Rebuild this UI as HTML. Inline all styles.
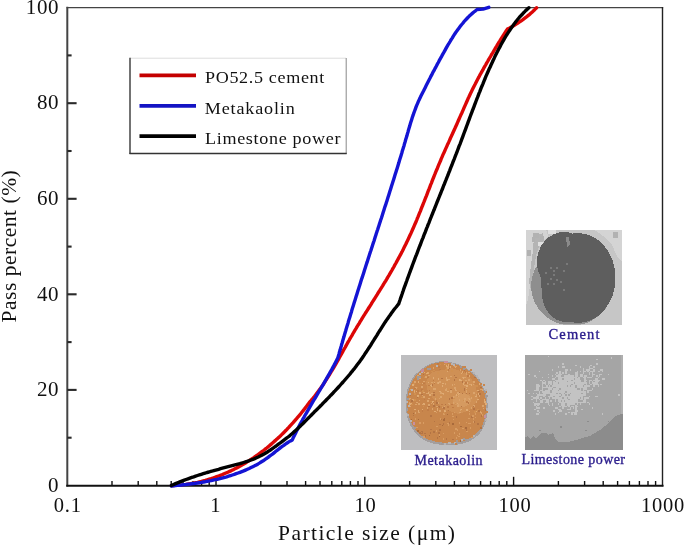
<!DOCTYPE html>
<html><head><meta charset="utf-8">
<style>
html,body{margin:0;padding:0;background:#fff;}
body{width:685px;height:546px;overflow:hidden;position:relative;}
svg{position:absolute;left:0;top:0;filter:blur(0.35px);}
text{font-family:"Liberation Serif",serif;}
</style></head>
<body>
<svg width="685" height="546" viewBox="0 0 685 546">
<!-- frame -->
<g fill="none" stroke-linecap="square">
<line x1="67.3" y1="7.7" x2="662.5" y2="7.7" stroke="#444" stroke-width="1.3"/>
<line x1="662.5" y1="7.7" x2="662.5" y2="485.6" stroke="#222" stroke-width="1.4"/>
<line x1="67.3" y1="7.7" x2="67.3" y2="485.6" stroke="#444" stroke-width="2"/>
<line x1="67.3" y1="485.8" x2="662.5" y2="485.8" stroke="#111" stroke-width="2.1"/>
</g>
<!-- y ticks -->
<g stroke="#2a2a2a" stroke-width="2.1">
<line x1="67.3" y1="437.7" x2="71.6" y2="437.7"/>
<line x1="67.3" y1="389.9" x2="76.6" y2="389.9"/>
<line x1="67.3" y1="342.1" x2="71.6" y2="342.1"/>
<line x1="67.3" y1="294.3" x2="76.6" y2="294.3"/>
<line x1="67.3" y1="246.6" x2="71.6" y2="246.6"/>
<line x1="67.3" y1="198.8" x2="76.6" y2="198.8"/>
<line x1="67.3" y1="151.0" x2="71.6" y2="151.0"/>
<line x1="67.3" y1="103.2" x2="76.6" y2="103.2"/>
<line x1="67.3" y1="55.4" x2="71.6" y2="55.4"/>
</g>
<!-- x ticks -->
<g stroke="#111" stroke-width="1.4">
<line x1="112.0" y1="485" x2="112.0" y2="481"/>
<line x1="138.2" y1="485" x2="138.2" y2="481"/>
<line x1="156.8" y1="485" x2="156.8" y2="481"/>
<line x1="171.2" y1="485" x2="171.2" y2="481"/>
<line x1="183.0" y1="485" x2="183.0" y2="481"/>
<line x1="193.0" y1="485" x2="193.0" y2="481"/>
<line x1="201.6" y1="485" x2="201.6" y2="481"/>
<line x1="209.2" y1="485" x2="209.2" y2="481"/>
<line x1="216.0" y1="485" x2="216.0" y2="476.8"/>
<line x1="260.8" y1="485" x2="260.8" y2="481"/>
<line x1="287.0" y1="485" x2="287.0" y2="481"/>
<line x1="305.6" y1="485" x2="305.6" y2="481"/>
<line x1="320.0" y1="485" x2="320.0" y2="481"/>
<line x1="331.8" y1="485" x2="331.8" y2="481"/>
<line x1="341.8" y1="485" x2="341.8" y2="481"/>
<line x1="350.4" y1="485" x2="350.4" y2="481"/>
<line x1="358.0" y1="485" x2="358.0" y2="481"/>
<line x1="364.8" y1="485" x2="364.8" y2="476.8"/>
<line x1="409.6" y1="485" x2="409.6" y2="481"/>
<line x1="435.8" y1="485" x2="435.8" y2="481"/>
<line x1="454.4" y1="485" x2="454.4" y2="481"/>
<line x1="468.8" y1="485" x2="468.8" y2="481"/>
<line x1="480.6" y1="485" x2="480.6" y2="481"/>
<line x1="490.6" y1="485" x2="490.6" y2="481"/>
<line x1="499.2" y1="485" x2="499.2" y2="481"/>
<line x1="506.8" y1="485" x2="506.8" y2="481"/>
<line x1="513.6" y1="485" x2="513.6" y2="476.8"/>
<line x1="558.4" y1="485" x2="558.4" y2="481"/>
<line x1="584.6" y1="485" x2="584.6" y2="481"/>
<line x1="603.2" y1="485" x2="603.2" y2="481"/>
<line x1="617.6" y1="485" x2="617.6" y2="481"/>
<line x1="629.4" y1="485" x2="629.4" y2="481"/>
<line x1="639.4" y1="485" x2="639.4" y2="481"/>
<line x1="648.0" y1="485" x2="648.0" y2="481"/>
<line x1="655.6" y1="485" x2="655.6" y2="481"/>
</g>

<!-- y labels -->
<g font-size="21" fill="#111" text-anchor="end" letter-spacing="0.6">
<text x="59.1" y="13.9">100</text>
<text x="59.1" y="109.3">80</text>
<text x="59.1" y="204.9">60</text>
<text x="59.1" y="300.5">40</text>
<text x="59.1" y="396.1">20</text>
<text x="59.1" y="491.7">0</text>
</g>
<!-- x labels -->
<g font-size="20.5" fill="#111" text-anchor="middle" letter-spacing="0.8">
<text x="67.8" y="512">0.1</text>
<text x="215.8" y="512">1</text>
<text x="365.5" y="512">10</text>
<text x="515" y="512">100</text>
<text x="663" y="512">1000</text>
</g>
<text x="278" y="540" font-size="21.5" fill="#111" textLength="177" lengthAdjust="spacing">Particle size (μm)</text>
<text transform="translate(16.3,322.5) rotate(-90)" font-size="21.5" fill="#111" textLength="152.3" lengthAdjust="spacing">Pass percent (%)</text>

<!-- legend -->
<g>
<rect x="130" y="58.2" width="216" height="95.3" fill="#fff" stroke="none"/>
<line x1="130" y1="58.2" x2="346" y2="58.2" stroke="#ddd" stroke-width="1"/>
<line x1="130" y1="57.7" x2="130" y2="154" stroke="#444" stroke-width="1.5"/>
<line x1="346.2" y1="58" x2="346.2" y2="154" stroke="#888" stroke-width="1"/>
<line x1="129.5" y1="153.5" x2="346.7" y2="153.5" stroke="#333" stroke-width="1.5"/>
<line x1="139.5" y1="75.3" x2="196" y2="75.3" stroke="#c40000" stroke-width="3.8"/>
<line x1="139.5" y1="105.8" x2="196" y2="105.8" stroke="#1414c4" stroke-width="3.8"/>
<line x1="139.5" y1="136.2" x2="196" y2="136.2" stroke="#000" stroke-width="3.8"/>
<g font-size="16.6" fill="#111">
<text transform="translate(205,83) scale(1.09,1)" textLength="109.5" lengthAdjust="spacing">PO52.5 cement</text>
<text transform="translate(204.8,113.5) scale(1.09,1)" textLength="82.5" lengthAdjust="spacing">Metakaolin</text>
<text transform="translate(205,144) scale(1.09,1)" textLength="124.3" lengthAdjust="spacing">Limestone power</text>
</g>
</g>

<!-- insets -->
<!--INS-S-->
<g id="insets" shape-rendering="crispEdges">
<rect x="526" y="229.5" width="96" height="95" fill="#c6c6c6"/>
<path d="M526,229.5 H546 L548,236 L543,241 L538,248 L534,258 L531,270 L530,285 L528,300 L526,305 Z" fill="#d4d4d4"/>
<path d="M534,236 L543,233 L544,240 L540,245 L537,252 L535,262 L533,275 L531,290 L529,282 L531,265 L533,250 Z" fill="#b4b4b4"/>
<path d="M594,229.5 H622 V262 L617,256 L612,245 L603,236 Z" fill="#d4d4d4"/>
<path d="M533,233 h6 v5 h-4 v4 h-3 z M540,236 h4 v4 h-4z M527,250 h4 v6 h-4z M613,232 h5 v6 h-5z" fill="#b2b2b2"/>
<path d="M548,230 h8 v4 h-8z M538,242 h5 v4 h-5z" fill="#e0e0e0"/>
<clipPath id="cc"><rect x="526" y="229.5" width="96" height="95"/></clipPath>
<g clip-path="url(#cc)"><ellipse cx="572" cy="286" rx="41" ry="39.5" fill="#8e8e8e"/>
<ellipse cx="578" cy="278" rx="37.5" ry="45" fill="#5e5e5e"/><ellipse cx="564" cy="262" rx="27" ry="30" fill="#5e5e5e"/><ellipse cx="566" cy="293" rx="24" ry="29" fill="#5e5e5e"/></g>
<rect x="550" y="267" width="2" height="2" fill="#7a7a7a"/>
<rect x="553" y="270" width="2" height="2" fill="#7a7a7a"/>
<rect x="556" y="267" width="2" height="2" fill="#7a7a7a"/>
<rect x="553" y="274" width="2" height="2" fill="#7a7a7a"/>
<rect x="550" y="278" width="2" height="2" fill="#7a7a7a"/>
<rect x="556" y="279" width="2" height="2" fill="#7a7a7a"/>
<rect x="560" y="281" width="2" height="2" fill="#7a7a7a"/>
<rect x="547" y="283" width="2" height="2" fill="#7a7a7a"/>
<rect x="553" y="283" width="2" height="2" fill="#7a7a7a"/>
<rect x="563" y="270" width="2" height="2" fill="#7a7a7a"/>
<rect x="566" y="263" width="2" height="2" fill="#7a7a7a"/>
<rect x="563" y="289" width="2" height="2" fill="#7a7a7a"/>
<rect x="545" y="272" width="2" height="2" fill="#7a7a7a"/>
<path d="M566,237 l3,0 l1,8 l-3,2 z" fill="#8a8a8a"/>
<rect x="401" y="355.3" width="95.5" height="95" fill="#bebec0"/>
<path d="M444.9,361.4 C448.8,361.7 453.9,362.5 458.4,364.3 C462.9,366.0 468.1,368.7 472.0,371.9 C475.8,375.1 479.0,378.9 481.5,383.4 C484.1,387.9 486.3,393.7 487.2,398.8 C488.2,403.9 487.9,409.4 487.2,414.2 C486.6,419.0 485.3,423.9 483.4,427.7 C481.5,431.6 479.2,434.6 475.7,437.3 C472.2,440.0 467.7,442.7 462.3,443.9 C456.8,445.2 449.1,445.5 443.0,445.0 C437.0,444.5 430.6,443.4 425.8,441.1 C421.0,438.9 417.3,435.3 414.2,431.5 C411.2,427.6 408.9,422.8 407.5,418.0 C406.0,413.2 405.6,407.5 405.6,402.7 C405.6,397.9 406.0,393.7 407.5,389.2 C408.9,384.8 411.2,379.6 414.2,375.7 C417.3,371.9 422.3,368.4 425.8,366.2 C429.3,363.9 432.2,363.1 435.4,362.3 C438.5,361.5 441.1,361.0 444.9,361.4 Z" fill="#a39e9e"/>
<path d="M445.0,362.2 C448.7,362.5 453.7,363.3 458.0,365.0 C462.3,366.7 467.3,369.2 471.0,372.3 C474.7,375.4 477.8,379.1 480.2,383.4 C482.6,387.7 484.8,393.3 485.7,398.2 C486.6,403.1 486.3,408.4 485.7,413.0 C485.1,417.6 483.9,422.3 482.0,426.0 C480.1,429.7 478.0,432.6 474.6,435.2 C471.2,437.8 466.9,440.4 461.7,441.6 C456.5,442.8 449.0,443.1 443.2,442.6 C437.4,442.2 431.2,441.1 426.6,438.9 C422.0,436.7 418.4,433.3 415.5,429.6 C412.6,425.9 410.4,421.3 409.0,416.7 C407.6,412.1 407.2,406.5 407.2,401.9 C407.2,397.3 407.6,393.3 409.0,389.0 C410.4,384.7 412.6,379.7 415.5,376.0 C418.4,372.3 423.2,368.9 426.6,366.8 C430.0,364.7 432.7,363.9 435.8,363.1 C438.9,362.3 441.3,361.9 445.0,362.2 Z" fill="#c8864c"/>
<path d="M432,372 L452,368 L468,374 L476,386 L478,400 L470,410 L458,414 L446,410 L436,402 L428,392 L426,382 Z" fill="#cf9156" opacity="0.9"/>
<ellipse cx="462" cy="400" rx="9" ry="7" fill="#d59a60"/>
<rect x="457" y="435" width="1" height="1" fill="#d89c62"/>
<rect x="431" y="384" width="2" height="1" fill="#dba46c"/>
<rect x="447" y="406" width="2" height="2" fill="#c07c46"/>
<rect x="423" y="374" width="1" height="1" fill="#b47444"/>
<rect x="409" y="403" width="2" height="2" fill="#e0ac74"/>
<rect x="457" y="403" width="1" height="1" fill="#e0ac74"/>
<rect x="462" y="377" width="1" height="1" fill="#dba46c"/>
<rect x="475" y="413" width="1" height="2" fill="#d89c62"/>
<rect x="454" y="366" width="2" height="1" fill="#dba46c"/>
<rect x="485" y="409" width="1" height="2" fill="#b47444"/>
<rect x="461" y="373" width="1" height="1" fill="#e0ac74"/>
<rect x="439" y="369" width="2" height="1" fill="#c07c46"/>
<rect x="460" y="386" width="1" height="2" fill="#d09050"/>
<rect x="417" y="430" width="2" height="2" fill="#a86a3c"/>
<rect x="418" y="377" width="1" height="2" fill="#c07c46"/>
<rect x="421" y="433" width="1" height="1" fill="#b47444"/>
<rect x="439" y="381" width="2" height="2" fill="#dba46c"/>
<rect x="444" y="406" width="1" height="2" fill="#dba46c"/>
<rect x="448" y="424" width="1" height="2" fill="#d89c62"/>
<rect x="465" y="380" width="2" height="1" fill="#dba46c"/>
<rect x="421" y="389" width="2" height="2" fill="#c07c46"/>
<rect x="434" y="383" width="1" height="1" fill="#c07c46"/>
<rect x="485" y="403" width="2" height="2" fill="#e0ac74"/>
<rect x="466" y="409" width="2" height="2" fill="#e0ac74"/>
<rect x="441" y="404" width="2" height="1" fill="#c07c46"/>
<rect x="471" y="416" width="2" height="2" fill="#b47444"/>
<rect x="433" y="394" width="1" height="1" fill="#dba46c"/>
<rect x="423" y="436" width="2" height="2" fill="#d89c62"/>
<rect x="445" y="410" width="1" height="1" fill="#b47444"/>
<rect x="484" y="399" width="1" height="2" fill="#b47444"/>
<rect x="439" y="424" width="2" height="1" fill="#b47444"/>
<rect x="480" y="427" width="2" height="2" fill="#b47444"/>
<rect x="426" y="376" width="1" height="1" fill="#e0ac74"/>
<rect x="454" y="375" width="1" height="1" fill="#b47444"/>
<rect x="472" y="415" width="2" height="2" fill="#d89c62"/>
<rect x="410" y="389" width="1" height="1" fill="#dba46c"/>
<rect x="452" y="413" width="1" height="2" fill="#d89c62"/>
<rect x="457" y="429" width="1" height="2" fill="#d89c62"/>
<rect x="459" y="379" width="2" height="2" fill="#e0ac74"/>
<rect x="437" y="382" width="2" height="2" fill="#e0ac74"/>
<rect x="414" y="392" width="1" height="2" fill="#dba46c"/>
<rect x="473" y="392" width="2" height="2" fill="#dba46c"/>
<rect x="423" y="381" width="2" height="1" fill="#dba46c"/>
<rect x="413" y="423" width="1" height="1" fill="#d89c62"/>
<rect x="468" y="372" width="2" height="1" fill="#dba46c"/>
<rect x="428" y="386" width="1" height="2" fill="#d09050"/>
<rect x="421" y="397" width="2" height="1" fill="#d09050"/>
<rect x="464" y="369" width="1" height="2" fill="#b47444"/>
<rect x="411" y="404" width="2" height="1" fill="#d09050"/>
<rect x="428" y="405" width="2" height="2" fill="#b47444"/>
<rect x="416" y="376" width="1" height="2" fill="#d09050"/>
<rect x="469" y="393" width="1" height="1" fill="#b47444"/>
<rect x="468" y="423" width="1" height="1" fill="#d89c62"/>
<rect x="440" y="364" width="1" height="2" fill="#d09050"/>
<rect x="437" y="406" width="2" height="1" fill="#b47444"/>
<rect x="437" y="372" width="2" height="2" fill="#d09050"/>
<rect x="418" y="419" width="1" height="1" fill="#a86a3c"/>
<rect x="453" y="398" width="2" height="1" fill="#d09050"/>
<rect x="444" y="364" width="1" height="1" fill="#dba46c"/>
<rect x="464" y="398" width="2" height="2" fill="#dba46c"/>
<rect x="426" y="393" width="2" height="1" fill="#dba46c"/>
<rect x="409" y="402" width="1" height="1" fill="#dba46c"/>
<rect x="476" y="401" width="1" height="2" fill="#dba46c"/>
<rect x="428" y="404" width="2" height="2" fill="#dba46c"/>
<rect x="457" y="405" width="2" height="2" fill="#dba46c"/>
<rect x="423" y="403" width="2" height="2" fill="#e0ac74"/>
<rect x="455" y="366" width="2" height="1" fill="#dba46c"/>
<rect x="477" y="423" width="2" height="2" fill="#b47444"/>
<rect x="475" y="417" width="1" height="1" fill="#d89c62"/>
<rect x="467" y="375" width="2" height="2" fill="#c07c46"/>
<rect x="448" y="369" width="1" height="2" fill="#c07c46"/>
<rect x="471" y="384" width="1" height="2" fill="#d09050"/>
<rect x="440" y="418" width="1" height="2" fill="#d89c62"/>
<rect x="423" y="406" width="1" height="1" fill="#d09050"/>
<rect x="484" y="399" width="1" height="2" fill="#e0ac74"/>
<rect x="452" y="407" width="2" height="1" fill="#c07c46"/>
<rect x="443" y="413" width="2" height="2" fill="#d89c62"/>
<rect x="424" y="377" width="2" height="1" fill="#d09050"/>
<rect x="443" y="423" width="1" height="2" fill="#b47444"/>
<rect x="444" y="412" width="1" height="2" fill="#d09050"/>
<rect x="458" y="394" width="1" height="1" fill="#e0ac74"/>
<rect x="466" y="392" width="1" height="2" fill="#e0ac74"/>
<rect x="447" y="389" width="2" height="1" fill="#d09050"/>
<rect x="438" y="432" width="2" height="2" fill="#b47444"/>
<rect x="461" y="409" width="1" height="1" fill="#e0ac74"/>
<rect x="430" y="385" width="2" height="2" fill="#e0ac74"/>
<rect x="435" y="398" width="1" height="2" fill="#dba46c"/>
<rect x="437" y="383" width="1" height="1" fill="#d09050"/>
<rect x="462" y="367" width="1" height="1" fill="#d09050"/>
<rect x="446" y="377" width="1" height="2" fill="#e0ac74"/>
<rect x="473" y="400" width="2" height="1" fill="#d09050"/>
<rect x="436" y="406" width="2" height="1" fill="#dba46c"/>
<rect x="458" y="392" width="2" height="1" fill="#b47444"/>
<rect x="445" y="404" width="1" height="1" fill="#b47444"/>
<rect x="431" y="382" width="2" height="1" fill="#dba46c"/>
<rect x="417" y="387" width="1" height="1" fill="#d09050"/>
<rect x="481" y="415" width="1" height="2" fill="#b47444"/>
<rect x="434" y="382" width="1" height="1" fill="#e0ac74"/>
<rect x="417" y="397" width="1" height="1" fill="#b47444"/>
<rect x="417" y="375" width="2" height="2" fill="#dba46c"/>
<rect x="419" y="400" width="1" height="1" fill="#dba46c"/>
<rect x="419" y="383" width="2" height="1" fill="#d09050"/>
<rect x="456" y="394" width="1" height="2" fill="#e0ac74"/>
<rect x="460" y="410" width="2" height="1" fill="#d09050"/>
<rect x="415" y="387" width="2" height="2" fill="#dba46c"/>
<rect x="456" y="416" width="1" height="2" fill="#b47444"/>
<rect x="455" y="389" width="1" height="1" fill="#e0ac74"/>
<rect x="421" y="386" width="2" height="2" fill="#e0ac74"/>
<rect x="429" y="435" width="1" height="1" fill="#a86a3c"/>
<rect x="426" y="373" width="1" height="2" fill="#d09050"/>
<rect x="423" y="383" width="2" height="1" fill="#c07c46"/>
<rect x="463" y="372" width="2" height="1" fill="#d09050"/>
<rect x="448" y="364" width="1" height="2" fill="#e0ac74"/>
<rect x="413" y="383" width="2" height="2" fill="#d09050"/>
<rect x="476" y="385" width="2" height="2" fill="#d09050"/>
<rect x="466" y="392" width="1" height="2" fill="#b47444"/>
<rect x="437" y="363" width="2" height="2" fill="#c07c46"/>
<rect x="429" y="386" width="2" height="1" fill="#dba46c"/>
<rect x="428" y="375" width="2" height="1" fill="#dba46c"/>
<rect x="423" y="422" width="1" height="2" fill="#d89c62"/>
<rect x="447" y="367" width="2" height="2" fill="#dba46c"/>
<rect x="454" y="432" width="1" height="2" fill="#d89c62"/>
<rect x="409" y="393" width="1" height="1" fill="#dba46c"/>
<rect x="452" y="439" width="2" height="1" fill="#b47444"/>
<rect x="452" y="423" width="2" height="2" fill="#a86a3c"/>
<rect x="422" y="409" width="1" height="1" fill="#e0ac74"/>
<rect x="428" y="392" width="1" height="2" fill="#e0ac74"/>
<rect x="451" y="370" width="2" height="2" fill="#d09050"/>
<rect x="414" y="381" width="2" height="2" fill="#dba46c"/>
<rect x="433" y="377" width="1" height="2" fill="#e0ac74"/>
<rect x="445" y="404" width="1" height="1" fill="#b47444"/>
<rect x="417" y="390" width="2" height="2" fill="#c07c46"/>
<rect x="424" y="372" width="1" height="1" fill="#e0ac74"/>
<rect x="454" y="384" width="1" height="1" fill="#dba46c"/>
<rect x="467" y="382" width="1" height="2" fill="#e0ac74"/>
<rect x="439" y="434" width="1" height="2" fill="#d89c62"/>
<rect x="427" y="372" width="1" height="2" fill="#e0ac74"/>
<rect x="464" y="400" width="1" height="2" fill="#dba46c"/>
<rect x="462" y="372" width="2" height="1" fill="#c07c46"/>
<rect x="414" y="388" width="2" height="1" fill="#c07c46"/>
<rect x="480" y="411" width="1" height="2" fill="#dba46c"/>
<rect x="443" y="407" width="2" height="2" fill="#b47444"/>
<rect x="472" y="395" width="2" height="2" fill="#d09050"/>
<rect x="443" y="438" width="1" height="2" fill="#d89c62"/>
<rect x="439" y="392" width="1" height="1" fill="#d09050"/>
<rect x="442" y="393" width="2" height="1" fill="#e0ac74"/>
<rect x="452" y="416" width="2" height="1" fill="#d89c62"/>
<rect x="429" y="386" width="2" height="1" fill="#d09050"/>
<rect x="415" y="418" width="1" height="2" fill="#d89c62"/>
<rect x="409" y="394" width="2" height="1" fill="#e0ac74"/>
<rect x="434" y="411" width="2" height="1" fill="#e0ac74"/>
<rect x="427" y="377" width="2" height="1" fill="#c07c46"/>
<rect x="448" y="410" width="1" height="1" fill="#b47444"/>
<rect x="409" y="406" width="2" height="1" fill="#dba46c"/>
<rect x="433" y="367" width="1" height="2" fill="#dba46c"/>
<rect x="441" y="378" width="2" height="1" fill="#b47444"/>
<rect x="433" y="388" width="2" height="2" fill="#dba46c"/>
<rect x="461" y="406" width="1" height="1" fill="#b47444"/>
<rect x="427" y="409" width="2" height="2" fill="#c07c46"/>
<rect x="458" y="404" width="1" height="2" fill="#dba46c"/>
<rect x="462" y="428" width="2" height="1" fill="#d89c62"/>
<rect x="476" y="394" width="1" height="2" fill="#dba46c"/>
<rect x="432" y="384" width="1" height="2" fill="#c07c46"/>
<rect x="410" y="403" width="2" height="1" fill="#e0ac74"/>
<rect x="439" y="429" width="2" height="2" fill="#b47444"/>
<rect x="463" y="377" width="1" height="2" fill="#e0ac74"/>
<rect x="450" y="366" width="1" height="2" fill="#e0ac74"/>
<rect x="437" y="402" width="2" height="2" fill="#dba46c"/>
<rect x="484" y="401" width="2" height="2" fill="#e0ac74"/>
<rect x="464" y="388" width="1" height="2" fill="#b47444"/>
<rect x="450" y="392" width="2" height="1" fill="#dba46c"/>
<rect x="460" y="440" width="2" height="2" fill="#a86a3c"/>
<rect x="422" y="432" width="1" height="2" fill="#b47444"/>
<rect x="422" y="404" width="2" height="1" fill="#dba46c"/>
<rect x="416" y="427" width="2" height="1" fill="#d89c62"/>
<rect x="427" y="372" width="2" height="2" fill="#dba46c"/>
<rect x="440" y="396" width="2" height="2" fill="#dba46c"/>
<rect x="429" y="394" width="2" height="2" fill="#e0ac74"/>
<rect x="478" y="393" width="1" height="2" fill="#e0ac74"/>
<rect x="460" y="369" width="1" height="2" fill="#dba46c"/>
<rect x="419" y="378" width="2" height="1" fill="#dba46c"/>
<rect x="454" y="387" width="2" height="2" fill="#dba46c"/>
<rect x="471" y="407" width="1" height="2" fill="#dba46c"/>
<rect x="457" y="396" width="1" height="1" fill="#d09050"/>
<rect x="447" y="370" width="1" height="2" fill="#e0ac74"/>
<rect x="465" y="382" width="2" height="2" fill="#c07c46"/>
<rect x="440" y="395" width="2" height="1" fill="#d09050"/>
<rect x="477" y="399" width="2" height="1" fill="#e0ac74"/>
<rect x="480" y="387" width="2" height="1" fill="#b47444"/>
<rect x="455" y="367" width="1" height="1" fill="#e0ac74"/>
<rect x="450" y="376" width="2" height="1" fill="#dba46c"/>
<rect x="455" y="428" width="2" height="2" fill="#d89c62"/>
<rect x="469" y="385" width="2" height="1" fill="#d09050"/>
<rect x="418" y="403" width="2" height="2" fill="#dba46c"/>
<rect x="477" y="409" width="2" height="2" fill="#d09050"/>
<rect x="464" y="377" width="2" height="1" fill="#dba46c"/>
<rect x="454" y="412" width="1" height="1" fill="#d89c62"/>
<rect x="447" y="423" width="2" height="1" fill="#d89c62"/>
<rect x="443" y="433" width="1" height="1" fill="#d89c62"/>
<rect x="437" y="409" width="1" height="2" fill="#e0ac74"/>
<rect x="433" y="394" width="2" height="2" fill="#b47444"/>
<rect x="463" y="400" width="1" height="1" fill="#d09050"/>
<rect x="475" y="411" width="2" height="1" fill="#e0ac74"/>
<rect x="431" y="371" width="2" height="1" fill="#d09050"/>
<rect x="416" y="402" width="2" height="1" fill="#dba46c"/>
<rect x="458" y="436" width="2" height="1" fill="#d89c62"/>
<rect x="427" y="407" width="1" height="2" fill="#dba46c"/>
<rect x="411" y="419" width="1" height="2" fill="#a86a3c"/>
<rect x="451" y="404" width="2" height="1" fill="#c07c46"/>
<rect x="435" y="388" width="1" height="2" fill="#dba46c"/>
<rect x="478" y="410" width="2" height="2" fill="#b47444"/>
<rect x="446" y="365" width="1" height="2" fill="#e0ac74"/>
<rect x="459" y="412" width="2" height="1" fill="#dba46c"/>
<rect x="449" y="365" width="2" height="1" fill="#c07c46"/>
<rect x="439" y="406" width="1" height="2" fill="#b47444"/>
<rect x="466" y="389" width="1" height="2" fill="#dba46c"/>
<rect x="469" y="375" width="1" height="2" fill="#e0ac74"/>
<rect x="462" y="393" width="1" height="1" fill="#b47444"/>
<rect x="439" y="391" width="2" height="1" fill="#e0ac74"/>
<rect x="426" y="373" width="2" height="1" fill="#e0ac74"/>
<rect x="451" y="397" width="2" height="2" fill="#b47444"/>
<rect x="460" y="426" width="2" height="1" fill="#a86a3c"/>
<rect x="463" y="383" width="1" height="2" fill="#e0ac74"/>
<rect x="470" y="427" width="1" height="2" fill="#d89c62"/>
<rect x="413" y="415" width="1" height="1" fill="#b47444"/>
<rect x="466" y="391" width="1" height="2" fill="#dba46c"/>
<rect x="456" y="437" width="1" height="2" fill="#d89c62"/>
<rect x="432" y="401" width="2" height="2" fill="#e0ac74"/>
<rect x="461" y="389" width="1" height="1" fill="#b47444"/>
<rect x="446" y="379" width="1" height="1" fill="#dba46c"/>
<rect x="415" y="412" width="1" height="2" fill="#dba46c"/>
<rect x="416" y="391" width="1" height="1" fill="#e0ac74"/>
<rect x="432" y="384" width="1" height="2" fill="#b47444"/>
<rect x="453" y="396" width="1" height="2" fill="#dba46c"/>
<rect x="466" y="372" width="1" height="2" fill="#dba46c"/>
<rect x="436" y="412" width="1" height="1" fill="#d89c62"/>
<rect x="421" y="394" width="2" height="1" fill="#b47444"/>
<rect x="413" y="399" width="1" height="2" fill="#dba46c"/>
<rect x="473" y="421" width="2" height="2" fill="#b47444"/>
<rect x="433" y="388" width="1" height="1" fill="#dba46c"/>
<rect x="436" y="396" width="1" height="2" fill="#d09050"/>
<rect x="424" y="403" width="1" height="1" fill="#dba46c"/>
<rect x="471" y="397" width="1" height="2" fill="#dba46c"/>
<rect x="422" y="386" width="1" height="2" fill="#dba46c"/>
<rect x="433" y="380" width="1" height="1" fill="#c07c46"/>
<rect x="458" y="396" width="1" height="1" fill="#dba46c"/>
<rect x="414" y="390" width="1" height="2" fill="#e0ac74"/>
<rect x="449" y="442" width="2" height="2" fill="#d89c62"/>
<rect x="459" y="399" width="1" height="2" fill="#dba46c"/>
<rect x="449" y="398" width="1" height="2" fill="#b47444"/>
<rect x="446" y="380" width="1" height="1" fill="#dba46c"/>
<rect x="466" y="431" width="2" height="1" fill="#d89c62"/>
<rect x="442" y="385" width="1" height="2" fill="#e0ac74"/>
<rect x="412" y="384" width="2" height="2" fill="#e0ac74"/>
<rect x="421" y="386" width="2" height="2" fill="#dba46c"/>
<rect x="471" y="437" width="2" height="1" fill="#d89c62"/>
<rect x="417" y="431" width="2" height="1" fill="#a86a3c"/>
<rect x="436" y="426" width="2" height="1" fill="#d89c62"/>
<rect x="422" y="395" width="1" height="1" fill="#dba46c"/>
<rect x="442" y="383" width="2" height="1" fill="#e0ac74"/>
<rect x="430" y="415" width="2" height="2" fill="#b47444"/>
<rect x="427" y="400" width="2" height="2" fill="#dba46c"/>
<rect x="419" y="392" width="2" height="2" fill="#e0ac74"/>
<rect x="473" y="384" width="1" height="1" fill="#dba46c"/>
<rect x="425" y="435" width="1" height="2" fill="#b47444"/>
<rect x="424" y="433" width="2" height="1" fill="#b47444"/>
<rect x="423" y="392" width="2" height="1" fill="#dba46c"/>
<rect x="439" y="398" width="1" height="1" fill="#dba46c"/>
<rect x="433" y="392" width="2" height="1" fill="#b47444"/>
<rect x="443" y="419" width="2" height="2" fill="#a86a3c"/>
<rect x="463" y="382" width="2" height="1" fill="#dba46c"/>
<rect x="459" y="422" width="1" height="2" fill="#d89c62"/>
<rect x="422" y="383" width="1" height="1" fill="#e0ac74"/>
<rect x="450" y="389" width="2" height="2" fill="#b47444"/>
<rect x="462" y="381" width="1" height="2" fill="#b47444"/>
<rect x="483" y="408" width="1" height="1" fill="#dba46c"/>
<rect x="448" y="403" width="1" height="1" fill="#dba46c"/>
<rect x="409" y="398" width="2" height="1" fill="#dba46c"/>
<rect x="450" y="390" width="2" height="2" fill="#dba46c"/>
<rect x="440" y="392" width="2" height="2" fill="#dba46c"/>
<rect x="469" y="423" width="2" height="1" fill="#d89c62"/>
<rect x="428" y="385" width="2" height="1" fill="#c07c46"/>
<rect x="410" y="395" width="1" height="1" fill="#b47444"/>
<rect x="474" y="377" width="2" height="1" fill="#b47444"/>
<rect x="414" y="409" width="2" height="1" fill="#e0ac74"/>
<rect x="469" y="399" width="1" height="1" fill="#e0ac74"/>
<rect x="443" y="394" width="1" height="1" fill="#dba46c"/>
<rect x="427" y="381" width="1" height="1" fill="#d09050"/>
<rect x="423" y="404" width="1" height="1" fill="#dba46c"/>
<rect x="436" y="402" width="2" height="2" fill="#b47444"/>
<rect x="475" y="396" width="2" height="1" fill="#e0ac74"/>
<rect x="460" y="409" width="1" height="2" fill="#dba46c"/>
<rect x="439" y="410" width="2" height="2" fill="#dba46c"/>
<rect x="414" y="393" width="2" height="2" fill="#d09050"/>
<rect x="409" y="398" width="1" height="2" fill="#dba46c"/>
<rect x="446" y="367" width="1" height="2" fill="#d09050"/>
<rect x="436" y="430" width="1" height="2" fill="#d89c62"/>
<rect x="481" y="412" width="1" height="2" fill="#dba46c"/>
<rect x="482" y="389" width="1" height="2" fill="#dba46c"/>
<rect x="460" y="380" width="2" height="1" fill="#e0ac74"/>
<rect x="480" y="389" width="2" height="1" fill="#dba46c"/>
<rect x="424" y="399" width="1" height="1" fill="#c07c46"/>
<rect x="418" y="410" width="1" height="2" fill="#e0ac74"/>
<rect x="431" y="393" width="2" height="1" fill="#dba46c"/>
<rect x="478" y="391" width="2" height="1" fill="#b47444"/>
<rect x="429" y="390" width="1" height="1" fill="#c07c46"/>
<rect x="465" y="427" width="2" height="2" fill="#a86a3c"/>
<rect x="448" y="379" width="2" height="1" fill="#dba46c"/>
<rect x="430" y="429" width="2" height="1" fill="#b47444"/>
<rect x="479" y="393" width="2" height="2" fill="#b47444"/>
<rect x="433" y="405" width="2" height="2" fill="#b47444"/>
<rect x="482" y="405" width="2" height="2" fill="#dba46c"/>
<rect x="441" y="419" width="1" height="1" fill="#b47444"/>
<rect x="473" y="418" width="1" height="2" fill="#d89c62"/>
<rect x="477" y="390" width="2" height="1" fill="#e0ac74"/>
<rect x="433" y="370" width="2" height="1" fill="#d09050"/>
<rect x="452" y="384" width="1" height="2" fill="#dba46c"/>
<rect x="444" y="410" width="2" height="2" fill="#e0ac74"/>
<rect x="479" y="383" width="1" height="2" fill="#e0ac74"/>
<rect x="446" y="381" width="1" height="2" fill="#d09050"/>
<rect x="449" y="422" width="1" height="2" fill="#b47444"/>
<rect x="437" y="408" width="1" height="2" fill="#e0ac74"/>
<rect x="473" y="421" width="1" height="2" fill="#d89c62"/>
<rect x="430" y="401" width="2" height="1" fill="#d09050"/>
<rect x="473" y="381" width="2" height="2" fill="#dba46c"/>
<rect x="459" y="433" width="1" height="2" fill="#d89c62"/>
<rect x="457" y="393" width="1" height="2" fill="#d09050"/>
<rect x="453" y="402" width="1" height="2" fill="#dba46c"/>
<rect x="466" y="373" width="1" height="2" fill="#dba46c"/>
<rect x="447" y="391" width="2" height="1" fill="#e0ac74"/>
<rect x="446" y="380" width="2" height="1" fill="#dba46c"/>
<rect x="411" y="400" width="2" height="2" fill="#b47444"/>
<rect x="471" y="384" width="1" height="2" fill="#e0ac74"/>
<rect x="455" y="403" width="1" height="1" fill="#d09050"/>
<rect x="425" y="376" width="2" height="2" fill="#dba46c"/>
<rect x="453" y="419" width="1" height="1" fill="#d89c62"/>
<rect x="446" y="438" width="1" height="2" fill="#b47444"/>
<rect x="469" y="413" width="1" height="2" fill="#d89c62"/>
<rect x="437" y="437" width="1" height="2" fill="#b47444"/>
<rect x="455" y="390" width="2" height="1" fill="#dba46c"/>
<rect x="445" y="383" width="1" height="1" fill="#d09050"/>
<rect x="431" y="403" width="1" height="1" fill="#dba46c"/>
<rect x="451" y="391" width="1" height="1" fill="#dba46c"/>
<rect x="412" y="421" width="2" height="2" fill="#d89c62"/>
<rect x="423" y="396" width="2" height="2" fill="#dba46c"/>
<rect x="468" y="402" width="1" height="2" fill="#b47444"/>
<rect x="455" y="377" width="2" height="1" fill="#b47444"/>
<rect x="428" y="398" width="2" height="1" fill="#dba46c"/>
<rect x="438" y="378" width="1" height="2" fill="#e0ac74"/>
<rect x="434" y="421" width="1" height="1" fill="#b47444"/>
<rect x="445" y="363" width="2" height="2" fill="#d09050"/>
<rect x="462" y="371" width="1" height="2" fill="#e0ac74"/>
<rect x="433" y="402" width="1" height="2" fill="#c07c46"/>
<rect x="447" y="366" width="2" height="2" fill="#dba46c"/>
<rect x="466" y="429" width="1" height="2" fill="#b47444"/>
<rect x="466" y="388" width="1" height="1" fill="#e0ac74"/>
<rect x="460" y="379" width="1" height="1" fill="#dba46c"/>
<rect x="421" y="431" width="2" height="1" fill="#b47444"/>
<rect x="414" y="399" width="2" height="2" fill="#d09050"/>
<rect x="457" y="392" width="2" height="2" fill="#dba46c"/>
<rect x="445" y="389" width="2" height="2" fill="#dba46c"/>
<rect x="432" y="408" width="1" height="2" fill="#dba46c"/>
<rect x="436" y="400" width="1" height="2" fill="#c07c46"/>
<rect x="466" y="389" width="2" height="1" fill="#d09050"/>
<rect x="465" y="371" width="1" height="2" fill="#c07c46"/>
<rect x="418" y="381" width="1" height="2" fill="#e0ac74"/>
<rect x="467" y="401" width="2" height="1" fill="#dba46c"/>
<rect x="413" y="413" width="1" height="1" fill="#a86a3c"/>
<rect x="419" y="432" width="2" height="2" fill="#b47444"/>
<rect x="449" y="403" width="1" height="2" fill="#dba46c"/>
<rect x="469" y="384" width="2" height="1" fill="#dba46c"/>
<rect x="452" y="384" width="1" height="1" fill="#dba46c"/>
<rect x="445" y="410" width="1" height="1" fill="#dba46c"/>
<rect x="468" y="398" width="2" height="1" fill="#dba46c"/>
<rect x="438" y="366" width="2" height="2" fill="#c07c46"/>
<rect x="447" y="379" width="1" height="2" fill="#e0ac74"/>
<rect x="445" y="390" width="1" height="1" fill="#dba46c"/>
<rect x="454" y="379" width="1" height="2" fill="#b47444"/>
<rect x="466" y="401" width="2" height="2" fill="#c07c46"/>
<rect x="482" y="414" width="1" height="2" fill="#d89c62"/>
<rect x="415" y="404" width="2" height="1" fill="#dba46c"/>
<rect x="437" y="377" width="1" height="1" fill="#d09050"/>
<rect x="433" y="431" width="2" height="2" fill="#b47444"/>
<rect x="466" y="422" width="1" height="1" fill="#d89c62"/>
<rect x="469" y="411" width="1" height="1" fill="#dba46c"/>
<rect x="449" y="368" width="1" height="1" fill="#b47444"/>
<rect x="446" y="369" width="2" height="2" fill="#d09050"/>
<rect x="461" y="389" width="1" height="1" fill="#d09050"/>
<rect x="466" y="385" width="2" height="2" fill="#e0ac74"/>
<rect x="446" y="388" width="1" height="2" fill="#dba46c"/>
<rect x="447" y="414" width="1" height="1" fill="#a86a3c"/>
<rect x="412" y="399" width="2" height="1" fill="#dba46c"/>
<rect x="473" y="405" width="2" height="2" fill="#dba46c"/>
<rect x="418" y="412" width="2" height="1" fill="#dba46c"/>
<rect x="464" y="389" width="1" height="2" fill="#b47444"/>
<rect x="474" y="411" width="2" height="2" fill="#d09050"/>
<rect x="437" y="382" width="1" height="2" fill="#dba46c"/>
<rect x="468" y="379" width="2" height="2" fill="#dba46c"/>
<rect x="468" y="398" width="2" height="1" fill="#dba46c"/>
<rect x="464" y="385" width="2" height="1" fill="#dba46c"/>
<rect x="430" y="432" width="1" height="2" fill="#b47444"/>
<rect x="422" y="390" width="2" height="2" fill="#d09050"/>
<rect x="442" y="425" width="1" height="1" fill="#a86a3c"/>
<rect x="459" y="393" width="1" height="1" fill="#e0ac74"/>
<rect x="468" y="418" width="2" height="1" fill="#d89c62"/>
<rect x="422" y="410" width="1" height="2" fill="#c07c46"/>
<rect x="479" y="395" width="1" height="2" fill="#dba46c"/>
<rect x="429" y="381" width="1" height="2" fill="#d09050"/>
<rect x="442" y="407" width="1" height="1" fill="#dba46c"/>
<rect x="428" y="382" width="1" height="1" fill="#e0ac74"/>
<rect x="469" y="375" width="1" height="2" fill="#e0ac74"/>
<rect x="417" y="395" width="2" height="2" fill="#e0ac74"/>
<rect x="473" y="406" width="1" height="1" fill="#b47444"/>
<rect x="444" y="418" width="1" height="1" fill="#a86a3c"/>
<rect x="473" y="408" width="2" height="2" fill="#b47444"/>
<rect x="439" y="436" width="1" height="1" fill="#a86a3c"/>
<rect x="449" y="375" width="1" height="2" fill="#d09050"/>
<rect x="419" y="422" width="2" height="2" fill="#d89c62"/>
<rect x="445" y="383" width="1" height="2" fill="#dba46c"/>
<rect x="433" y="403" width="1" height="2" fill="#dba46c"/>
<rect x="414" y="427" width="2" height="2" fill="#a09a9a"/>
<rect x="440" y="365" width="2" height="2" fill="#c8864c"/>
<rect x="485" y="419" width="2" height="2" fill="#b8b4b4"/>
<rect x="421" y="371" width="2" height="2" fill="#b8b4b4"/>
<rect x="436" y="365" width="2" height="2" fill="#b8b4b4"/>
<rect x="422" y="434" width="2" height="2" fill="#c8864c"/>
<rect x="454" y="442" width="2" height="2" fill="#b8b4b4"/>
<rect x="486" y="411" width="2" height="2" fill="#c8864c"/>
<rect x="438" y="442" width="2" height="2" fill="#a09a9a"/>
<rect x="417" y="377" width="2" height="2" fill="#b8b4b4"/>
<rect x="417" y="377" width="2" height="2" fill="#b8b4b4"/>
<rect x="470" y="369" width="2" height="2" fill="#c8864c"/>
<rect x="463" y="438" width="2" height="2" fill="#a09a9a"/>
<rect x="473" y="372" width="2" height="2" fill="#b8b4b4"/>
<rect x="463" y="367" width="2" height="2" fill="#b8b4b4"/>
<rect x="449" y="442" width="2" height="2" fill="#b8b4b4"/>
<rect x="428" y="369" width="2" height="2" fill="#c8864c"/>
<rect x="444" y="443" width="2" height="2" fill="#b8b4b4"/>
<rect x="460" y="366" width="2" height="2" fill="#a09a9a"/>
<rect x="419" y="373" width="2" height="2" fill="#b8b4b4"/>
<rect x="486" y="408" width="2" height="2" fill="#b8b4b4"/>
<rect x="485" y="389" width="2" height="2" fill="#b8b4b4"/>
<rect x="480" y="383" width="2" height="2" fill="#c8864c"/>
<rect x="476" y="375" width="2" height="2" fill="#b8b4b4"/>
<rect x="410" y="420" width="2" height="2" fill="#b8b4b4"/>
<rect x="427" y="368" width="2" height="2" fill="#a09a9a"/>
<rect x="409" y="393" width="2" height="2" fill="#b8b4b4"/>
<rect x="461" y="441" width="2" height="2" fill="#a09a9a"/>
<rect x="456" y="440" width="2" height="2" fill="#a09a9a"/>
<rect x="407" y="398" width="2" height="2" fill="#a09a9a"/>
<rect x="476" y="375" width="2" height="2" fill="#b8b4b4"/>
<rect x="477" y="377" width="2" height="2" fill="#b8b4b4"/>
<rect x="473" y="435" width="2" height="2" fill="#b8b4b4"/>
<rect x="419" y="376" width="2" height="2" fill="#a09a9a"/>
<rect x="463" y="368" width="2" height="2" fill="#a09a9a"/>
<rect x="455" y="443" width="2" height="2" fill="#c8864c"/>
<rect x="417" y="376" width="2" height="2" fill="#a09a9a"/>
<rect x="465" y="439" width="2" height="2" fill="#a09a9a"/>
<rect x="451" y="363" width="2" height="2" fill="#b8b4b4"/>
<rect x="411" y="389" width="2" height="2" fill="#b8b4b4"/>
<rect x="417" y="378" width="2" height="2" fill="#a09a9a"/>
<rect x="408" y="413" width="2" height="2" fill="#c8864c"/>
<rect x="483" y="384" width="2" height="2" fill="#c8864c"/>
<rect x="464" y="366" width="2" height="2" fill="#c8864c"/>
<rect x="453" y="364" width="2" height="2" fill="#b8b4b4"/>
<rect x="408" y="405" width="2" height="2" fill="#b8b4b4"/>
<rect x="441" y="443" width="2" height="2" fill="#a09a9a"/>
<rect x="412" y="421" width="2" height="2" fill="#c8864c"/>
<rect x="461" y="439" width="2" height="2" fill="#b8b4b4"/>
<rect x="429" y="368" width="2" height="2" fill="#a09a9a"/>
<rect x="407" y="414" width="2" height="2" fill="#b8b4b4"/>
<rect x="462" y="366" width="2" height="2" fill="#c8864c"/>
<rect x="484" y="392" width="2" height="2" fill="#c8864c"/>
<rect x="485" y="391" width="2" height="2" fill="#c8864c"/>
<rect x="484" y="391" width="2" height="2" fill="#a09a9a"/>
<rect x="478" y="379" width="2" height="2" fill="#a09a9a"/>
<rect x="406" y="401" width="2" height="2" fill="#b8b4b4"/>
<rect x="486" y="395" width="2" height="2" fill="#a09a9a"/>
<rect x="448" y="442" width="2" height="2" fill="#b8b4b4"/>
<rect x="407" y="411" width="2" height="2" fill="#c8864c"/>
<rect x="421" y="369" width="3" height="3" fill="#c48a9a"/><rect x="444" y="361" width="4" height="2" fill="#c890a0"/><rect x="484" y="415" width="2" height="3" fill="#c890a0"/><rect x="413" y="422" width="2" height="3" fill="#c890a0"/>
<rect x="525" y="355" width="97.5" height="95" fill="#a5a5a5"/>
<rect x="620.5" y="355" width="2" height="95" fill="#afafaf"/>
<path d="M525,437 L528,436 L530,439 L533,436 L536,438 L540,435 L541,433 L546,433 L548,435 L553,433 L555,438 L558,442 L568,442 L572,441 L575,440 L580,439 L585,437 L590,436 L595,433 L600,430 L605,426 L610,421 L614,417 L618,415 L622.5,414 L622.5,450 L525,450 Z" fill="#8c8c8c"/>
<rect x="547.55" y="356.00" width="1.47" height="1.47" fill="#c3c3c3"/>
<rect x="610.76" y="357.47" width="1.47" height="1.47" fill="#c3c3c3"/>
<rect x="596.06" y="358.94" width="1.47" height="1.47" fill="#c3c3c3"/>
<rect x="562.25" y="363.35" width="1.47" height="1.47" fill="#c3c3c3"/>
<rect x="596.06" y="363.35" width="1.47" height="1.47" fill="#c3c3c3"/>
<rect x="575.48" y="364.82" width="1.47" height="1.47" fill="#c3c3c3"/>
<rect x="590.18" y="364.82" width="1.47" height="1.47" fill="#c3c3c3"/>
<rect x="557.84" y="366.29" width="1.47" height="1.47" fill="#c3c3c3"/>
<rect x="562.25" y="366.29" width="2.94" height="1.47" fill="#c3c3c3"/>
<rect x="579.89" y="366.29" width="1.47" height="1.47" fill="#c3c3c3"/>
<rect x="588.71" y="366.29" width="1.47" height="1.47" fill="#c3c3c3"/>
<rect x="593.12" y="366.29" width="1.47" height="1.47" fill="#c3c3c3"/>
<rect x="582.83" y="367.76" width="1.47" height="1.47" fill="#c3c3c3"/>
<rect x="588.71" y="367.76" width="4.41" height="1.47" fill="#c3c3c3"/>
<rect x="551.96" y="369.23" width="1.47" height="1.47" fill="#c3c3c3"/>
<rect x="565.19" y="369.23" width="2.94" height="1.47" fill="#c3c3c3"/>
<rect x="569.60" y="369.23" width="1.47" height="1.47" fill="#c3c3c3"/>
<rect x="582.83" y="369.23" width="1.47" height="1.47" fill="#c3c3c3"/>
<rect x="585.77" y="369.23" width="4.41" height="1.47" fill="#c3c3c3"/>
<rect x="593.12" y="369.23" width="1.47" height="1.47" fill="#c3c3c3"/>
<rect x="600.47" y="369.23" width="2.94" height="1.47" fill="#c3c3c3"/>
<rect x="538.73" y="370.70" width="1.47" height="1.47" fill="#c3c3c3"/>
<rect x="559.31" y="370.70" width="1.47" height="1.47" fill="#c3c3c3"/>
<rect x="565.19" y="370.70" width="1.47" height="1.47" fill="#c3c3c3"/>
<rect x="576.95" y="370.70" width="1.47" height="1.47" fill="#c3c3c3"/>
<rect x="579.89" y="370.70" width="1.47" height="1.47" fill="#c3c3c3"/>
<rect x="582.83" y="370.70" width="2.94" height="1.47" fill="#c3c3c3"/>
<rect x="587.24" y="370.70" width="1.47" height="1.47" fill="#c3c3c3"/>
<rect x="590.18" y="370.70" width="4.41" height="1.47" fill="#c3c3c3"/>
<rect x="597.53" y="370.70" width="2.94" height="1.47" fill="#c3c3c3"/>
<rect x="601.94" y="370.70" width="1.47" height="1.47" fill="#c3c3c3"/>
<rect x="556.37" y="372.17" width="1.47" height="1.47" fill="#c3c3c3"/>
<rect x="559.31" y="372.17" width="1.47" height="1.47" fill="#c3c3c3"/>
<rect x="562.25" y="372.17" width="1.47" height="1.47" fill="#c3c3c3"/>
<rect x="565.19" y="372.17" width="1.47" height="1.47" fill="#c3c3c3"/>
<rect x="575.48" y="372.17" width="2.94" height="1.47" fill="#c3c3c3"/>
<rect x="582.83" y="372.17" width="1.47" height="1.47" fill="#c3c3c3"/>
<rect x="588.71" y="372.17" width="1.47" height="1.47" fill="#c3c3c3"/>
<rect x="591.65" y="372.17" width="1.47" height="1.47" fill="#c3c3c3"/>
<rect x="528.44" y="373.64" width="1.47" height="1.47" fill="#c3c3c3"/>
<rect x="547.55" y="373.64" width="1.47" height="1.47" fill="#c3c3c3"/>
<rect x="554.90" y="373.64" width="1.47" height="1.47" fill="#c3c3c3"/>
<rect x="557.84" y="373.64" width="4.41" height="1.47" fill="#c3c3c3"/>
<rect x="568.13" y="373.64" width="1.47" height="1.47" fill="#c3c3c3"/>
<rect x="575.48" y="373.64" width="2.94" height="1.47" fill="#c3c3c3"/>
<rect x="579.89" y="373.64" width="2.94" height="1.47" fill="#c3c3c3"/>
<rect x="588.71" y="373.64" width="1.47" height="1.47" fill="#c3c3c3"/>
<rect x="591.65" y="373.64" width="2.94" height="1.47" fill="#c3c3c3"/>
<rect x="599.00" y="373.64" width="2.94" height="1.47" fill="#c3c3c3"/>
<rect x="607.82" y="373.64" width="1.47" height="1.47" fill="#c3c3c3"/>
<rect x="534.32" y="375.11" width="1.47" height="1.47" fill="#c3c3c3"/>
<rect x="551.96" y="375.11" width="1.47" height="1.47" fill="#c3c3c3"/>
<rect x="556.37" y="375.11" width="4.41" height="1.47" fill="#c3c3c3"/>
<rect x="563.72" y="375.11" width="10.29" height="1.47" fill="#c3c3c3"/>
<rect x="575.48" y="375.11" width="2.94" height="1.47" fill="#c3c3c3"/>
<rect x="579.89" y="375.11" width="2.94" height="1.47" fill="#c3c3c3"/>
<rect x="584.30" y="375.11" width="2.94" height="1.47" fill="#c3c3c3"/>
<rect x="591.65" y="375.11" width="1.47" height="1.47" fill="#c3c3c3"/>
<rect x="596.06" y="375.11" width="1.47" height="1.47" fill="#c3c3c3"/>
<rect x="599.00" y="375.11" width="1.47" height="1.47" fill="#c3c3c3"/>
<rect x="535.79" y="376.58" width="1.47" height="1.47" fill="#c3c3c3"/>
<rect x="541.67" y="376.58" width="1.47" height="1.47" fill="#c3c3c3"/>
<rect x="547.55" y="376.58" width="1.47" height="1.47" fill="#c3c3c3"/>
<rect x="554.90" y="376.58" width="1.47" height="1.47" fill="#c3c3c3"/>
<rect x="557.84" y="376.58" width="19.11" height="1.47" fill="#c3c3c3"/>
<rect x="578.42" y="376.58" width="1.47" height="1.47" fill="#c3c3c3"/>
<rect x="582.83" y="376.58" width="2.94" height="1.47" fill="#c3c3c3"/>
<rect x="587.24" y="376.58" width="4.41" height="1.47" fill="#c3c3c3"/>
<rect x="597.53" y="376.58" width="1.47" height="1.47" fill="#c3c3c3"/>
<rect x="551.96" y="378.05" width="2.94" height="1.47" fill="#c3c3c3"/>
<rect x="557.84" y="378.05" width="4.41" height="1.47" fill="#c3c3c3"/>
<rect x="563.72" y="378.05" width="10.29" height="1.47" fill="#c3c3c3"/>
<rect x="575.48" y="378.05" width="4.41" height="1.47" fill="#c3c3c3"/>
<rect x="584.30" y="378.05" width="1.47" height="1.47" fill="#c3c3c3"/>
<rect x="594.59" y="378.05" width="2.94" height="1.47" fill="#c3c3c3"/>
<rect x="601.94" y="378.05" width="2.94" height="1.47" fill="#c3c3c3"/>
<rect x="540.20" y="379.52" width="1.47" height="1.47" fill="#c3c3c3"/>
<rect x="543.14" y="379.52" width="1.47" height="1.47" fill="#c3c3c3"/>
<rect x="554.90" y="379.52" width="16.17" height="1.47" fill="#c3c3c3"/>
<rect x="572.54" y="379.52" width="8.82" height="1.47" fill="#c3c3c3"/>
<rect x="584.30" y="379.52" width="2.94" height="1.47" fill="#c3c3c3"/>
<rect x="588.71" y="379.52" width="2.94" height="1.47" fill="#c3c3c3"/>
<rect x="593.12" y="379.52" width="7.35" height="1.47" fill="#c3c3c3"/>
<rect x="541.67" y="380.99" width="1.47" height="1.47" fill="#c3c3c3"/>
<rect x="544.61" y="380.99" width="1.47" height="1.47" fill="#c3c3c3"/>
<rect x="547.55" y="380.99" width="4.41" height="1.47" fill="#c3c3c3"/>
<rect x="553.43" y="380.99" width="1.47" height="1.47" fill="#c3c3c3"/>
<rect x="556.37" y="380.99" width="10.29" height="1.47" fill="#c3c3c3"/>
<rect x="568.13" y="380.99" width="13.23" height="1.47" fill="#c3c3c3"/>
<rect x="584.30" y="380.99" width="1.47" height="1.47" fill="#c3c3c3"/>
<rect x="588.71" y="380.99" width="1.47" height="1.47" fill="#c3c3c3"/>
<rect x="591.65" y="380.99" width="1.47" height="1.47" fill="#c3c3c3"/>
<rect x="594.59" y="380.99" width="4.41" height="1.47" fill="#c3c3c3"/>
<rect x="541.67" y="382.46" width="4.41" height="1.47" fill="#c3c3c3"/>
<rect x="547.55" y="382.46" width="4.41" height="1.47" fill="#c3c3c3"/>
<rect x="553.43" y="382.46" width="4.41" height="1.47" fill="#c3c3c3"/>
<rect x="559.31" y="382.46" width="14.70" height="1.47" fill="#c3c3c3"/>
<rect x="575.48" y="382.46" width="11.76" height="1.47" fill="#c3c3c3"/>
<rect x="588.71" y="382.46" width="1.47" height="1.47" fill="#c3c3c3"/>
<rect x="591.65" y="382.46" width="5.88" height="1.47" fill="#c3c3c3"/>
<rect x="535.79" y="383.93" width="2.94" height="1.47" fill="#c3c3c3"/>
<rect x="541.67" y="383.93" width="1.47" height="1.47" fill="#c3c3c3"/>
<rect x="544.61" y="383.93" width="1.47" height="1.47" fill="#c3c3c3"/>
<rect x="547.55" y="383.93" width="1.47" height="1.47" fill="#c3c3c3"/>
<rect x="550.49" y="383.93" width="1.47" height="1.47" fill="#c3c3c3"/>
<rect x="553.43" y="383.93" width="17.64" height="1.47" fill="#c3c3c3"/>
<rect x="572.54" y="383.93" width="11.76" height="1.47" fill="#c3c3c3"/>
<rect x="585.77" y="383.93" width="1.47" height="1.47" fill="#c3c3c3"/>
<rect x="590.18" y="383.93" width="1.47" height="1.47" fill="#c3c3c3"/>
<rect x="593.12" y="383.93" width="5.88" height="1.47" fill="#c3c3c3"/>
<rect x="600.47" y="383.93" width="1.47" height="1.47" fill="#c3c3c3"/>
<rect x="535.79" y="385.40" width="4.41" height="1.47" fill="#c3c3c3"/>
<rect x="541.67" y="385.40" width="1.47" height="1.47" fill="#c3c3c3"/>
<rect x="546.08" y="385.40" width="1.47" height="1.47" fill="#c3c3c3"/>
<rect x="549.02" y="385.40" width="1.47" height="1.47" fill="#c3c3c3"/>
<rect x="551.96" y="385.40" width="14.70" height="1.47" fill="#c3c3c3"/>
<rect x="568.13" y="385.40" width="1.47" height="1.47" fill="#c3c3c3"/>
<rect x="571.07" y="385.40" width="4.41" height="1.47" fill="#c3c3c3"/>
<rect x="576.95" y="385.40" width="5.88" height="1.47" fill="#c3c3c3"/>
<rect x="584.30" y="385.40" width="5.88" height="1.47" fill="#c3c3c3"/>
<rect x="593.12" y="385.40" width="1.47" height="1.47" fill="#c3c3c3"/>
<rect x="597.53" y="385.40" width="1.47" height="1.47" fill="#c3c3c3"/>
<rect x="535.79" y="386.87" width="2.94" height="1.47" fill="#c3c3c3"/>
<rect x="541.67" y="386.87" width="11.76" height="1.47" fill="#c3c3c3"/>
<rect x="556.37" y="386.87" width="19.11" height="1.47" fill="#c3c3c3"/>
<rect x="576.95" y="386.87" width="10.29" height="1.47" fill="#c3c3c3"/>
<rect x="535.79" y="388.34" width="2.94" height="1.47" fill="#c3c3c3"/>
<rect x="541.67" y="388.34" width="1.47" height="1.47" fill="#c3c3c3"/>
<rect x="547.55" y="388.34" width="4.41" height="1.47" fill="#c3c3c3"/>
<rect x="553.43" y="388.34" width="5.88" height="1.47" fill="#c3c3c3"/>
<rect x="560.78" y="388.34" width="16.17" height="1.47" fill="#c3c3c3"/>
<rect x="579.89" y="388.34" width="1.47" height="1.47" fill="#c3c3c3"/>
<rect x="582.83" y="388.34" width="4.41" height="1.47" fill="#c3c3c3"/>
<rect x="591.65" y="388.34" width="1.47" height="1.47" fill="#c3c3c3"/>
<rect x="526.97" y="389.81" width="1.47" height="1.47" fill="#c3c3c3"/>
<rect x="534.32" y="389.81" width="4.41" height="1.47" fill="#c3c3c3"/>
<rect x="540.20" y="389.81" width="2.94" height="1.47" fill="#c3c3c3"/>
<rect x="544.61" y="389.81" width="5.88" height="1.47" fill="#c3c3c3"/>
<rect x="551.96" y="389.81" width="5.88" height="1.47" fill="#c3c3c3"/>
<rect x="559.31" y="389.81" width="22.05" height="1.47" fill="#c3c3c3"/>
<rect x="582.83" y="389.81" width="1.47" height="1.47" fill="#c3c3c3"/>
<rect x="587.24" y="389.81" width="4.41" height="1.47" fill="#c3c3c3"/>
<rect x="538.73" y="391.28" width="1.47" height="1.47" fill="#c3c3c3"/>
<rect x="541.67" y="391.28" width="8.82" height="1.47" fill="#c3c3c3"/>
<rect x="551.96" y="391.28" width="13.23" height="1.47" fill="#c3c3c3"/>
<rect x="566.66" y="391.28" width="19.11" height="1.47" fill="#c3c3c3"/>
<rect x="587.24" y="391.28" width="1.47" height="1.47" fill="#c3c3c3"/>
<rect x="528.44" y="392.75" width="1.47" height="1.47" fill="#c3c3c3"/>
<rect x="532.85" y="392.75" width="1.47" height="1.47" fill="#c3c3c3"/>
<rect x="535.79" y="392.75" width="1.47" height="1.47" fill="#c3c3c3"/>
<rect x="538.73" y="392.75" width="1.47" height="1.47" fill="#c3c3c3"/>
<rect x="543.14" y="392.75" width="13.23" height="1.47" fill="#c3c3c3"/>
<rect x="557.84" y="392.75" width="1.47" height="1.47" fill="#c3c3c3"/>
<rect x="560.78" y="392.75" width="2.94" height="1.47" fill="#c3c3c3"/>
<rect x="565.19" y="392.75" width="4.41" height="1.47" fill="#c3c3c3"/>
<rect x="571.07" y="392.75" width="10.29" height="1.47" fill="#c3c3c3"/>
<rect x="582.83" y="392.75" width="2.94" height="1.47" fill="#c3c3c3"/>
<rect x="537.26" y="394.22" width="8.82" height="1.47" fill="#c3c3c3"/>
<rect x="550.49" y="394.22" width="10.29" height="1.47" fill="#c3c3c3"/>
<rect x="562.25" y="394.22" width="2.94" height="1.47" fill="#c3c3c3"/>
<rect x="566.66" y="394.22" width="1.47" height="1.47" fill="#c3c3c3"/>
<rect x="569.60" y="394.22" width="16.17" height="1.47" fill="#c3c3c3"/>
<rect x="618.11" y="394.22" width="1.47" height="1.47" fill="#c3c3c3"/>
<rect x="531.38" y="395.69" width="1.47" height="1.47" fill="#c3c3c3"/>
<rect x="535.79" y="395.69" width="2.94" height="1.47" fill="#c3c3c3"/>
<rect x="543.14" y="395.69" width="1.47" height="1.47" fill="#c3c3c3"/>
<rect x="547.55" y="395.69" width="5.88" height="1.47" fill="#c3c3c3"/>
<rect x="554.90" y="395.69" width="4.41" height="1.47" fill="#c3c3c3"/>
<rect x="560.78" y="395.69" width="22.05" height="1.47" fill="#c3c3c3"/>
<rect x="588.71" y="395.69" width="1.47" height="1.47" fill="#c3c3c3"/>
<rect x="594.59" y="395.69" width="2.94" height="1.47" fill="#c3c3c3"/>
<rect x="532.85" y="397.16" width="5.88" height="1.47" fill="#c3c3c3"/>
<rect x="540.20" y="397.16" width="1.47" height="1.47" fill="#c3c3c3"/>
<rect x="544.61" y="397.16" width="1.47" height="1.47" fill="#c3c3c3"/>
<rect x="549.02" y="397.16" width="1.47" height="1.47" fill="#c3c3c3"/>
<rect x="551.96" y="397.16" width="10.29" height="1.47" fill="#c3c3c3"/>
<rect x="563.72" y="397.16" width="2.94" height="1.47" fill="#c3c3c3"/>
<rect x="568.13" y="397.16" width="11.76" height="1.47" fill="#c3c3c3"/>
<rect x="581.36" y="397.16" width="1.47" height="1.47" fill="#c3c3c3"/>
<rect x="584.30" y="397.16" width="4.41" height="1.47" fill="#c3c3c3"/>
<rect x="531.38" y="398.63" width="1.47" height="1.47" fill="#c3c3c3"/>
<rect x="535.79" y="398.63" width="1.47" height="1.47" fill="#c3c3c3"/>
<rect x="538.73" y="398.63" width="1.47" height="1.47" fill="#c3c3c3"/>
<rect x="541.67" y="398.63" width="7.35" height="1.47" fill="#c3c3c3"/>
<rect x="554.90" y="398.63" width="1.47" height="1.47" fill="#c3c3c3"/>
<rect x="557.84" y="398.63" width="10.29" height="1.47" fill="#c3c3c3"/>
<rect x="569.60" y="398.63" width="8.82" height="1.47" fill="#c3c3c3"/>
<rect x="579.89" y="398.63" width="2.94" height="1.47" fill="#c3c3c3"/>
<rect x="584.30" y="398.63" width="1.47" height="1.47" fill="#c3c3c3"/>
<rect x="535.79" y="400.10" width="1.47" height="1.47" fill="#c3c3c3"/>
<rect x="540.20" y="400.10" width="2.94" height="1.47" fill="#c3c3c3"/>
<rect x="546.08" y="400.10" width="2.94" height="1.47" fill="#c3c3c3"/>
<rect x="550.49" y="400.10" width="1.47" height="1.47" fill="#c3c3c3"/>
<rect x="554.90" y="400.10" width="1.47" height="1.47" fill="#c3c3c3"/>
<rect x="557.84" y="400.10" width="2.94" height="1.47" fill="#c3c3c3"/>
<rect x="562.25" y="400.10" width="1.47" height="1.47" fill="#c3c3c3"/>
<rect x="565.19" y="400.10" width="13.23" height="1.47" fill="#c3c3c3"/>
<rect x="582.83" y="400.10" width="2.94" height="1.47" fill="#c3c3c3"/>
<rect x="532.85" y="401.57" width="1.47" height="1.47" fill="#c3c3c3"/>
<rect x="540.20" y="401.57" width="2.94" height="1.47" fill="#c3c3c3"/>
<rect x="544.61" y="401.57" width="4.41" height="1.47" fill="#c3c3c3"/>
<rect x="559.31" y="401.57" width="26.46" height="1.47" fill="#c3c3c3"/>
<rect x="587.24" y="401.57" width="1.47" height="1.47" fill="#c3c3c3"/>
<rect x="534.32" y="403.04" width="5.88" height="1.47" fill="#c3c3c3"/>
<rect x="547.55" y="403.04" width="1.47" height="1.47" fill="#c3c3c3"/>
<rect x="551.96" y="403.04" width="1.47" height="1.47" fill="#c3c3c3"/>
<rect x="557.84" y="403.04" width="1.47" height="1.47" fill="#c3c3c3"/>
<rect x="560.78" y="403.04" width="4.41" height="1.47" fill="#c3c3c3"/>
<rect x="566.66" y="403.04" width="8.82" height="1.47" fill="#c3c3c3"/>
<rect x="576.95" y="403.04" width="1.47" height="1.47" fill="#c3c3c3"/>
<rect x="579.89" y="403.04" width="1.47" height="1.47" fill="#c3c3c3"/>
<rect x="588.71" y="403.04" width="1.47" height="1.47" fill="#c3c3c3"/>
<rect x="534.32" y="404.51" width="1.47" height="1.47" fill="#c3c3c3"/>
<rect x="537.26" y="404.51" width="1.47" height="1.47" fill="#c3c3c3"/>
<rect x="549.02" y="404.51" width="1.47" height="1.47" fill="#c3c3c3"/>
<rect x="551.96" y="404.51" width="1.47" height="1.47" fill="#c3c3c3"/>
<rect x="560.78" y="404.51" width="4.41" height="1.47" fill="#c3c3c3"/>
<rect x="566.66" y="404.51" width="2.94" height="1.47" fill="#c3c3c3"/>
<rect x="575.48" y="404.51" width="1.47" height="1.47" fill="#c3c3c3"/>
<rect x="535.79" y="405.98" width="1.47" height="1.47" fill="#c3c3c3"/>
<rect x="559.31" y="405.98" width="1.47" height="1.47" fill="#c3c3c3"/>
<rect x="562.25" y="405.98" width="4.41" height="1.47" fill="#c3c3c3"/>
<rect x="568.13" y="405.98" width="1.47" height="1.47" fill="#c3c3c3"/>
<rect x="571.07" y="405.98" width="2.94" height="1.47" fill="#c3c3c3"/>
<rect x="575.48" y="405.98" width="2.94" height="1.47" fill="#c3c3c3"/>
<rect x="535.79" y="407.45" width="4.41" height="1.47" fill="#c3c3c3"/>
<rect x="543.14" y="407.45" width="1.47" height="1.47" fill="#c3c3c3"/>
<rect x="554.90" y="407.45" width="2.94" height="1.47" fill="#c3c3c3"/>
<rect x="562.25" y="407.45" width="1.47" height="1.47" fill="#c3c3c3"/>
<rect x="569.60" y="407.45" width="1.47" height="1.47" fill="#c3c3c3"/>
<rect x="572.54" y="407.45" width="1.47" height="1.47" fill="#c3c3c3"/>
<rect x="575.48" y="407.45" width="1.47" height="1.47" fill="#c3c3c3"/>
<rect x="591.65" y="407.45" width="1.47" height="1.47" fill="#c3c3c3"/>
<rect x="534.32" y="408.92" width="1.47" height="1.47" fill="#c3c3c3"/>
<rect x="557.84" y="408.92" width="2.94" height="1.47" fill="#c3c3c3"/>
<rect x="566.66" y="408.92" width="4.41" height="1.47" fill="#c3c3c3"/>
<rect x="575.48" y="408.92" width="1.47" height="1.47" fill="#c3c3c3"/>
<rect x="581.36" y="408.92" width="1.47" height="1.47" fill="#c3c3c3"/>
<rect x="537.26" y="410.39" width="1.47" height="1.47" fill="#c3c3c3"/>
<rect x="553.43" y="410.39" width="1.47" height="1.47" fill="#c3c3c3"/>
<rect x="559.31" y="410.39" width="2.94" height="1.47" fill="#c3c3c3"/>
<rect x="575.48" y="410.39" width="2.94" height="1.47" fill="#c3c3c3"/>
<rect x="538.73" y="411.86" width="1.47" height="1.47" fill="#c3c3c3"/>
<rect x="557.84" y="411.86" width="1.47" height="1.47" fill="#c3c3c3"/>
<rect x="568.13" y="411.86" width="1.47" height="1.47" fill="#c3c3c3"/>
<rect x="571.07" y="411.86" width="5.88" height="1.47" fill="#c3c3c3"/>
<rect x="535.79" y="413.33" width="2.94" height="1.47" fill="#c3c3c3"/>
<rect x="554.90" y="413.33" width="1.47" height="1.47" fill="#c3c3c3"/>
<rect x="565.19" y="413.33" width="1.47" height="1.47" fill="#c3c3c3"/>
<rect x="571.07" y="413.33" width="1.47" height="1.47" fill="#c3c3c3"/>
<rect x="574.01" y="413.33" width="2.94" height="1.47" fill="#c3c3c3"/>
<rect x="601.94" y="413.33" width="1.47" height="1.47" fill="#c3c3c3"/>
<rect x="587.0" y="420.7" width="1.5" height="1.5" fill="#8c8c8c"/>
<rect x="607.6" y="420.7" width="1.5" height="1.5" fill="#8c8c8c"/>
<rect x="539.4" y="429.5" width="1.5" height="1.5" fill="#8c8c8c"/>
<rect x="585.0" y="429.5" width="1.5" height="1.5" fill="#8c8c8c"/>
<rect x="560.0" y="426.0" width="1.5" height="1.5" fill="#8c8c8c"/>
</g>
<!--INS-E-->
<g>
<text x="548.5" y="339.4" font-size="14.5" fill="#2a1c8c" stroke="#2a1c8c" stroke-width="0.35" textLength="51" lengthAdjust="spacing">Cement</text>
<text x="414.5" y="464.7" font-size="14" fill="#2a1c8c" stroke="#2a1c8c" stroke-width="0.35" textLength="68" lengthAdjust="spacing">Metakaolin</text>
<text x="521.5" y="464.3" font-size="14" fill="#2a1c8c" stroke="#2a1c8c" stroke-width="0.35" textLength="103.5" lengthAdjust="spacing">Limestone power</text>
</g>

<!-- curves -->
<g fill="none" stroke-width="3.4" stroke-linejoin="round" stroke-linecap="round">
<polyline id="red" stroke="#dc0606" points="171.5,485.6 173.5,485.5 175.6,485.4 177.6,485.2 179.7,485.1 181.7,484.9 183.7,484.6 185.7,484.4 187.7,484.1 189.7,483.8 191.7,483.4 193.6,483.1 195.6,482.7 197.6,482.3 199.5,481.8 201.5,481.4 203.4,480.9 205.3,480.4 207.3,479.8 209.2,479.2 211.1,478.7 213.0,478.0 214.8,477.4 216.7,476.7 218.6,476.0 220.4,475.3 222.3,474.6 224.1,473.8 225.9,473.0 227.8,472.2 229.6,471.4 231.4,470.6 233.2,469.7 234.9,468.8 236.7,467.9 238.5,466.9 240.2,466.0 241.9,465.0 243.7,464.0 245.4,463.0 247.1,461.9 248.8,460.9 250.5,459.8 252.1,458.7 253.8,457.6 255.4,456.4 257.1,455.3 258.7,454.1 260.3,452.9 261.9,451.7 263.5,450.5 265.1,449.2 266.7,448.0 268.2,446.7 269.8,445.4 271.3,444.1 272.8,442.8 274.3,441.4 275.8,440.1 277.3,438.7 278.8,437.4 280.3,436.0 281.7,434.6 283.1,433.2 284.6,431.7 286.0,430.3 287.4,428.8 288.8,427.4 290.1,425.9 291.5,424.4 292.9,422.9 294.2,421.4 295.5,419.9 296.8,418.4 298.1,416.8 299.4,415.3 300.7,413.8 301.9,412.2 303.2,410.6 304.4,409.1 305.6,407.5 306.8,405.9 308.0,404.3 309.2,402.7 310.5,401.2 311.8,399.6 313.1,398.1 314.4,396.5 315.6,394.9 316.8,393.3 318.0,391.7 319.2,390.1 320.4,388.5 321.5,386.9 322.7,385.2 323.8,383.6 324.9,381.9 326.0,380.2 327.0,378.5 328.1,376.9 329.2,375.2 330.2,373.5 331.2,371.7 332.3,370.0 333.3,368.3 334.3,366.6 335.3,364.9 336.3,363.1 337.3,361.4 338.3,359.7 339.2,357.9 340.2,356.2 341.2,354.4 342.2,352.7 343.1,350.9 344.1,349.2 345.1,347.5 346.1,345.7 347.0,344.0 348.0,342.2 349.0,340.5 350.0,338.7 351.0,337.0 352.0,335.3 353.0,333.5 354.0,331.8 355.0,330.1 356.1,328.4 357.1,326.7 358.1,325.0 359.2,323.3 360.2,321.5 361.3,319.8 362.3,318.1 363.4,316.4 364.5,314.7 365.5,313.0 366.6,311.3 367.7,309.6 368.7,308.0 369.8,306.3 370.9,304.6 371.9,302.9 373.0,301.2 374.1,299.5 375.1,297.8 376.2,296.1 377.3,294.4 378.3,292.7 379.4,291.0 380.4,289.3 381.5,287.6 382.6,285.9 383.6,284.2 384.6,282.5 385.7,280.8 386.7,279.1 387.7,277.3 388.8,275.6 389.8,273.9 390.8,272.2 391.8,270.5 392.8,268.7 393.8,267.0 394.7,265.2 395.7,263.5 396.7,261.7 397.6,260.0 398.6,258.2 399.5,256.5 400.5,254.7 401.4,252.9 402.3,251.2 403.2,249.4 404.1,247.6 405.0,245.8 405.9,244.0 406.7,242.2 407.6,240.4 408.5,238.6 409.3,236.8 410.1,235.0 411.0,233.2 411.8,231.3 412.6,229.5 413.4,227.7 414.2,225.8 415.0,224.0 415.8,222.2 416.6,220.3 417.3,218.5 418.1,216.6 418.8,214.8 419.6,212.9 420.4,211.1 421.1,209.2 421.8,207.3 422.6,205.5 423.3,203.6 424.1,201.7 424.8,199.9 425.5,198.0 426.3,196.1 427.0,194.3 427.7,192.4 428.4,190.5 429.2,188.7 429.9,186.8 430.6,184.9 431.4,183.1 432.1,181.2 432.8,179.3 433.6,177.5 434.3,175.6 435.1,173.7 435.8,171.9 436.6,170.0 437.4,168.2 438.1,166.3 438.9,164.4 439.7,162.6 440.5,160.8 441.2,158.9 442.0,157.1 442.8,155.2 443.6,153.4 444.5,151.6 445.3,149.7 446.1,147.9 446.9,146.1 447.7,144.2 448.6,142.4 449.4,140.6 450.2,138.8 451.0,136.9 451.9,135.1 452.7,133.3 453.5,131.5 454.3,129.7 455.2,127.8 456.0,126.0 456.8,124.2 457.6,122.4 458.4,120.5 459.2,118.7 460.0,116.9 460.8,115.1 461.7,113.2 462.5,111.4 463.3,109.6 464.1,107.7 464.9,105.9 465.7,104.1 466.5,102.3 467.3,100.5 468.1,98.6 469.0,96.8 469.8,95.0 470.6,93.2 471.5,91.4 472.4,89.6 473.3,87.8 474.2,86.0 475.1,84.3 476.0,82.5 476.9,80.7 477.8,79.0 478.8,77.2 479.7,75.4 480.7,73.7 481.7,71.9 482.7,70.2 483.6,68.4 484.6,66.7 485.6,65.0 486.6,63.2 487.6,61.5 488.6,59.7 489.6,58.0 490.6,56.3 491.6,54.5 492.7,52.8 493.7,51.1 494.7,49.4 495.7,47.6 496.8,45.9 497.8,44.2 498.8,42.5 499.9,40.8 500.9,39.1 502.0,37.4 503.1,35.8 504.1,34.1 505.2,32.4 506.3,30.7 507.4,29.1 509.2,28.2 510.9,27.2 512.7,26.2 514.4,25.2 516.2,24.1 517.9,23.0 519.6,21.9 521.2,20.8 522.9,19.6 524.5,18.4 526.1,17.2 527.7,15.9 529.3,14.6 530.8,13.3 532.3,12.0 533.8,10.6 535.2,9.1 536.6,7.7"/>
<polyline id="blue" stroke="#1414d4" points="171.5,486.0 173.5,485.8 175.5,485.6 177.5,485.4 179.5,485.2 181.5,485.0 183.5,484.8 185.5,484.6 187.5,484.3 189.5,484.1 191.5,483.8 193.5,483.6 195.4,483.3 197.4,483.0 199.4,482.7 201.4,482.4 203.4,482.0 205.3,481.7 207.3,481.3 209.3,480.9 211.2,480.6 213.2,480.1 215.1,479.7 217.1,479.3 219.0,478.8 221.0,478.3 222.9,477.8 224.8,477.3 226.7,476.8 228.6,476.2 230.5,475.6 232.4,475.0 234.3,474.4 236.2,473.7 238.1,473.0 240.0,472.3 241.8,471.6 243.7,470.9 245.5,470.1 247.4,469.3 249.2,468.5 251.0,467.6 252.8,466.7 254.6,465.8 256.3,464.9 258.1,463.9 259.8,462.9 261.5,461.8 263.2,460.8 264.8,459.7 266.4,458.5 268.1,457.4 269.6,456.2 271.2,455.0 272.8,453.8 274.3,452.6 275.9,451.3 277.4,450.1 279.0,448.9 280.6,447.6 282.2,446.4 283.8,445.3 285.4,444.1 287.1,443.0 288.8,441.9 290.5,440.9 292.3,439.9 293.1,438.1 294.0,436.3 294.9,434.5 295.8,432.7 296.6,430.9 297.6,429.1 298.5,427.3 299.4,425.5 300.3,423.8 301.3,422.0 302.3,420.3 303.2,418.5 304.2,416.8 305.2,415.0 306.2,413.3 307.2,411.6 308.2,409.8 309.2,408.1 310.2,406.4 311.2,404.7 312.2,402.9 313.2,401.2 314.2,399.5 315.3,397.8 316.3,396.1 317.3,394.4 318.3,392.6 319.4,390.9 320.4,389.2 321.4,387.5 322.4,385.8 323.4,384.1 324.4,382.3 325.4,380.6 326.4,378.9 327.4,377.1 328.4,375.4 329.4,373.7 330.4,371.9 331.4,370.2 332.3,368.4 333.3,366.7 334.2,364.9 335.2,363.1 336.1,361.4 337.0,359.6 337.9,357.8 338.4,355.9 339.0,353.9 339.5,352.0 340.1,350.1 340.6,348.2 341.2,346.2 341.7,344.3 342.3,342.4 342.8,340.5 343.4,338.5 344.0,336.6 344.5,334.7 345.1,332.8 345.7,330.8 346.2,328.9 346.8,327.0 347.4,325.1 348.0,323.2 348.5,321.2 349.1,319.3 349.7,317.4 350.3,315.5 350.9,313.6 351.5,311.7 352.0,309.7 352.6,307.8 353.2,305.9 353.8,304.0 354.4,302.1 355.0,300.2 355.6,298.3 356.2,296.3 356.8,294.4 357.4,292.5 358.0,290.6 358.6,288.7 359.2,286.8 359.8,284.9 360.4,283.0 361.0,281.0 361.6,279.1 362.3,277.2 362.9,275.3 363.5,273.4 364.1,271.5 364.7,269.6 365.3,267.7 365.9,265.8 366.5,263.9 367.2,261.9 367.8,260.0 368.4,258.1 369.0,256.2 369.6,254.3 370.2,252.4 370.9,250.5 371.5,248.6 372.1,246.7 372.7,244.8 373.3,242.9 374.0,241.0 374.6,239.1 375.2,237.1 375.8,235.2 376.4,233.3 377.0,231.4 377.7,229.5 378.3,227.6 378.9,225.7 379.5,223.8 380.1,221.9 380.7,220.0 381.4,218.1 382.0,216.2 382.6,214.3 383.2,212.3 383.8,210.4 384.4,208.5 385.0,206.6 385.7,204.7 386.3,202.8 386.9,200.9 387.5,199.0 388.1,197.1 388.7,195.2 389.3,193.2 389.9,191.3 390.5,189.4 391.1,187.5 391.7,185.6 392.3,183.7 392.9,181.8 393.5,179.9 394.1,177.9 394.7,176.0 395.3,174.1 395.9,172.2 396.5,170.3 397.1,168.4 397.7,166.5 398.3,164.5 398.9,162.6 399.4,160.7 400.0,158.8 400.6,156.9 401.2,155.0 401.8,153.0 402.3,151.1 402.9,149.2 403.5,147.3 404.1,145.4 404.6,143.4 405.2,141.5 405.7,139.6 406.3,137.7 406.9,135.8 407.4,133.8 408.0,131.9 408.5,130.0 409.1,128.1 409.7,126.1 410.2,124.2 410.8,122.3 411.4,120.4 412.0,118.5 412.6,116.6 413.3,114.7 413.9,112.8 414.6,111.0 415.3,109.1 416.0,107.2 416.7,105.4 417.5,103.6 418.3,101.7 419.1,99.9 420.0,98.1 420.8,96.3 421.7,94.5 422.6,92.7 423.5,91.0 424.4,89.2 425.3,87.4 426.2,85.6 427.1,83.8 428.0,82.0 428.9,80.2 429.8,78.5 430.7,76.7 431.7,74.9 432.6,73.1 433.5,71.3 434.5,69.6 435.4,67.8 436.4,66.0 437.3,64.2 438.3,62.5 439.2,60.7 440.2,58.9 441.2,57.2 442.1,55.4 443.1,53.6 444.1,51.9 445.1,50.1 446.0,48.4 447.0,46.6 448.0,44.9 449.1,43.2 450.1,41.5 451.1,39.7 452.2,38.1 453.2,36.4 454.3,34.7 455.4,33.0 456.5,31.4 457.7,29.8 458.9,28.2 460.1,26.6 461.3,25.0 462.6,23.5 463.8,21.9 465.2,20.4 466.5,19.0 467.9,17.5 469.3,16.1 470.8,14.7 472.3,13.4 473.9,12.0 475.5,10.8 477.1,9.5 483.0,9.1 488.8,7.3"/>
<polyline id="black" stroke="#000" points="171.3,485.5 173.1,484.7 175.0,483.9 176.8,483.1 178.7,482.4 180.5,481.6 182.4,480.9 184.3,480.2 186.1,479.5 188.0,478.8 189.9,478.1 191.8,477.4 193.7,476.8 195.6,476.1 197.5,475.5 199.4,474.9 201.3,474.3 203.2,473.7 205.1,473.1 207.0,472.5 209.0,472.0 210.9,471.4 212.8,470.9 214.7,470.3 216.7,469.8 218.6,469.3 220.5,468.7 222.4,468.2 224.4,467.7 226.3,467.2 228.2,466.7 230.2,466.2 232.1,465.7 234.0,465.2 235.9,464.7 237.9,464.2 239.8,463.7 241.7,463.1 243.6,462.5 245.5,461.9 247.3,461.3 249.2,460.7 251.0,460.0 252.9,459.3 254.7,458.6 256.5,457.8 258.3,457.0 260.1,456.1 261.8,455.2 263.6,454.2 265.3,453.2 267.0,452.2 268.7,451.1 270.4,450.0 272.0,448.9 273.7,447.7 275.3,446.5 276.9,445.4 278.5,444.2 280.1,443.0 281.7,441.8 283.3,440.6 284.9,439.4 286.5,438.2 288.1,437.0 289.6,435.8 291.1,434.5 292.6,433.2 294.1,431.9 295.6,430.6 297.0,429.2 298.5,427.9 299.9,426.5 301.3,425.1 302.8,423.7 304.2,422.3 305.6,420.9 307.0,419.4 308.4,418.0 309.8,416.6 311.2,415.2 312.6,413.8 314.0,412.3 315.4,410.9 316.9,409.5 318.3,408.1 319.7,406.7 321.1,405.3 322.5,403.8 323.9,402.4 325.3,401.0 326.7,399.5 328.1,398.1 329.5,396.7 330.9,395.2 332.3,393.8 333.6,392.3 335.0,390.9 336.4,389.4 337.7,388.0 339.1,386.5 340.4,385.0 341.7,383.5 343.1,382.0 344.4,380.5 345.7,379.0 347.0,377.5 348.3,376.0 349.6,374.5 350.8,372.9 352.1,371.4 353.3,369.8 354.6,368.3 355.8,366.7 357.0,365.1 358.2,363.5 359.4,361.9 360.6,360.3 361.7,358.7 362.9,357.0 364.0,355.4 365.1,353.7 366.2,352.0 367.3,350.4 368.4,348.7 369.5,347.0 370.6,345.3 371.6,343.6 372.7,341.9 373.8,340.2 374.8,338.5 375.9,336.8 377.0,335.1 378.0,333.4 379.1,331.7 380.2,330.0 381.2,328.3 382.3,326.6 383.4,324.9 384.5,323.2 385.6,321.5 386.7,319.9 387.9,318.2 389.0,316.6 390.2,315.0 391.3,313.3 392.5,311.7 393.7,310.1 394.9,308.5 396.2,307.0 397.4,305.4 398.7,303.9 399.3,302.0 400.0,300.1 400.6,298.2 401.3,296.3 402.0,294.3 402.6,292.4 403.3,290.5 403.9,288.6 404.6,286.7 405.3,284.8 406.0,282.9 406.7,281.0 407.3,279.2 408.0,277.3 408.7,275.4 409.4,273.5 410.1,271.6 410.8,269.7 411.5,267.8 412.2,265.9 412.9,264.0 413.6,262.2 414.3,260.3 415.0,258.4 415.7,256.5 416.5,254.6 417.2,252.8 417.9,250.9 418.6,249.0 419.3,247.1 420.1,245.3 420.8,243.4 421.5,241.5 422.2,239.7 423.0,237.8 423.7,235.9 424.4,234.0 425.2,232.2 425.9,230.3 426.6,228.4 427.4,226.6 428.1,224.7 428.9,222.8 429.6,221.0 430.3,219.1 431.1,217.2 431.8,215.4 432.6,213.5 433.3,211.6 434.1,209.8 434.8,207.9 435.6,206.0 436.3,204.2 437.0,202.3 437.8,200.5 438.5,198.6 439.3,196.7 440.0,194.9 440.8,193.0 441.5,191.1 442.3,189.3 443.0,187.4 443.7,185.5 444.5,183.7 445.2,181.8 446.0,179.9 446.7,178.1 447.5,176.2 448.2,174.3 448.9,172.5 449.7,170.6 450.4,168.7 451.1,166.9 451.9,165.0 452.6,163.1 453.3,161.2 454.1,159.4 454.8,157.5 455.5,155.6 456.3,153.7 457.0,151.9 457.7,150.0 458.4,148.1 459.1,146.2 459.9,144.3 460.6,142.5 461.3,140.6 462.0,138.7 462.7,136.8 463.4,134.9 464.1,133.0 464.8,131.1 465.5,129.3 466.2,127.4 466.9,125.5 467.6,123.6 468.3,121.7 469.0,119.8 469.7,117.9 470.4,116.0 471.1,114.1 471.8,112.3 472.5,110.4 473.3,108.5 474.0,106.6 474.7,104.7 475.4,102.8 476.1,101.0 476.8,99.1 477.6,97.2 478.3,95.3 479.0,93.4 479.8,91.6 480.5,89.7 481.2,87.8 482.0,86.0 482.8,84.1 483.5,82.3 484.3,80.4 485.1,78.5 485.8,76.7 486.6,74.8 487.4,73.0 488.2,71.2 489.0,69.3 489.9,67.5 490.7,65.7 491.5,63.9 492.4,62.0 493.2,60.2 494.1,58.4 494.9,56.6 495.8,54.8 496.7,53.0 497.6,51.2 498.5,49.4 499.5,47.7 500.4,45.9 501.3,44.1 502.3,42.4 503.3,40.7 504.3,38.9 505.3,37.2 506.3,35.5 507.4,33.8 508.5,32.1 509.6,30.5 510.7,28.8 511.8,27.2 513.0,25.6 514.1,24.0 515.3,22.4 516.6,20.8 517.8,19.3 519.1,17.7 520.4,16.2 521.8,14.8 523.1,13.3 524.5,11.9 525.9,10.4 527.4,9.1 528.9,7.7"/>
</g>
</svg>
</body></html>
